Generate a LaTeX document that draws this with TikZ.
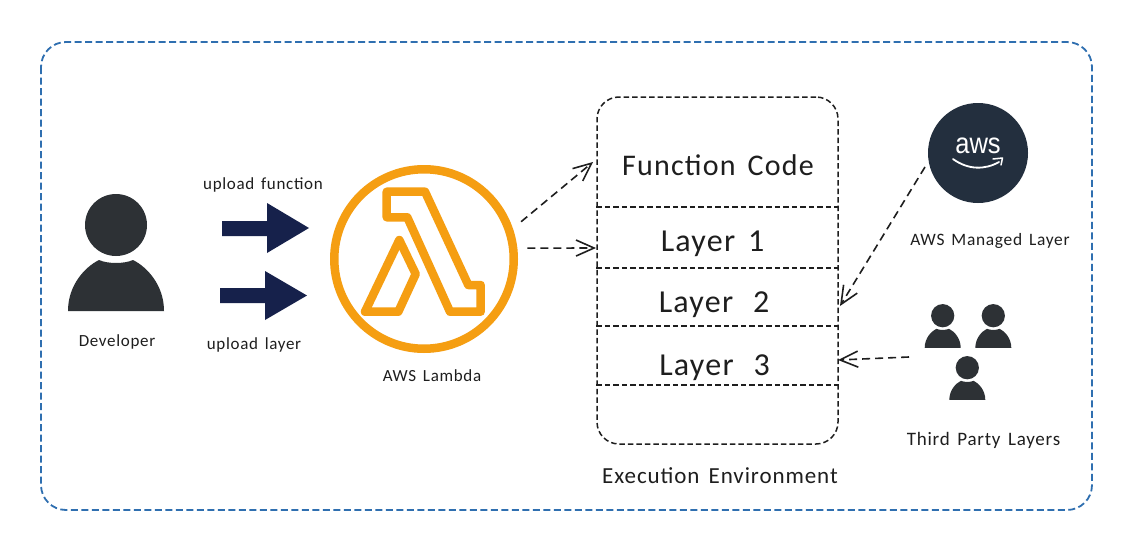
\documentclass[tikz,border=0pt]{standalone}
\usepackage{fontspec}
\setmainfont[LetterSpace=4,WordSpace=1.5]{Carlito}
\newfontfamily\logofont{Liberation Sans}
\usetikzlibrary{arrows.meta,shapes.geometric}
\definecolor{inkc}{HTML}{1E1E1E}
\definecolor{bluec}{HTML}{2F6FB0}
\definecolor{navyc}{HTML}{16214B}
\definecolor{orangec}{HTML}{F59E12}
\definecolor{darkc}{HTML}{2D3135}
\definecolor{awsc}{HTML}{232F3E}
\newcommand{\fsz}[1]{\fontsize{#1}{#1}\selectfont}
\tikzset{
  x=1pt,y=-1pt,
  outerbox/.style={draw=bluec,line width=1.8pt,dash pattern=on 7pt off 3.5pt,rounded corners=25pt},
  execbox/.style={draw=inkc,line width=1.5pt,dash pattern=on 5.5pt off 3pt,rounded corners=22pt,rectangle,inner sep=0pt,minimum width=241pt,minimum height=347pt},
  divider/.style={draw=inkc,line width=1.5pt,dash pattern=on 5.5pt off 3pt},
  link/.style={draw=inkc,line width=1.6pt,dash pattern=on 8pt off 5pt,-{Straight Barb[length=18pt,width=16pt,line width=1.6pt]}},
  bigarrow/.style={fill=navyc,draw=none},
  lambdaline/.style={draw=orangec,line width=8.5pt,line join=round},
  smalllabel/.style={text=inkc,font=\fsz{17},inner sep=0pt},
  biglabel/.style={text=inkc,font=\fsz{32},inner sep=0pt},
  midlabel/.style={text=inkc,font=\fsz{23},inner sep=0pt},
  person/.pic={
    \fill[darkc] (0,0) circle[radius=31];
    \fill[darkc] (-48,86) .. controls (-48,60) and (-31,42) .. (-17,35)
      .. controls (-8,39) and (8,39) .. (17,35)
      .. controls (31,42) and (48,60) .. (48,86) -- cycle;
  }
}
\begin{document}
\begin{tikzpicture}
\useasboundingbox (0,0) rectangle (1129,551);
\fill[white] (0,0) rectangle (1129,551);
\draw[outerbox] (41,42) rectangle (1092,510);

% Developer
\pic at (116,225) {person};
\node[smalllabel] (dev) at (117,342) {Developer};

% Upload arrows
\fill[bigarrow] (222,221) -- (267,221) -- (267,203) -- (309,228) -- (267,253) -- (267,236) -- (222,236) -- cycle;
\fill[bigarrow] (220,288) -- (265,288) -- (265,271) -- (307,295.5) -- (265,320) -- (265,303) -- (220,303) -- cycle;
\node[smalllabel] (upf) at (263,185) {upload function};
\node[smalllabel] (upl) at (254,344.5) {upload layer};

% Lambda
\node[circle,draw=none,minimum size=188pt,inner sep=0pt,outer sep=10pt] (lambda) at (424,259) {};
\draw[draw=orangec,line width=8.5pt] (lambda.center) circle[radius=89.75];
\draw[lambdaline] (386.7,191.7) -- (425,191.7) -- (468.3,285) -- (480.7,285) -- (480.7,311.7) -- (450,311.7) -- (407.3,217.3) -- (386.7,217.3) -- cycle;
\draw[lambdaline] (399.3,240) -- (415.7,274) -- (398.3,311.7) -- (365,311.7) -- cycle;
\node[smalllabel] (lamlab) at (432,376) {AWS Lambda};

% Execution environment
\node[execbox] (exec) at (717.5,270.5) {};
\draw[divider] (exec.west |- 0,207) -- (exec.east |- 0,207);
\draw[divider] (exec.west |- 0,268) -- (exec.east |- 0,268);
\draw[divider] (exec.west |- 0,326) -- (exec.east |- 0,326);
\draw[divider] (exec.west |- 0,385) -- (exec.east |- 0,385);
\node[biglabel,font=\fsz{30}] (fn) at (718,165) {Function Code};
\node[biglabel] (l1) at (712.5,244) {Layer 1};
\node[biglabel] (l2) at (714,305) {Layer\hspace{7pt} 2};
\node[biglabel] (l3) at (714.5,368) {Layer\hspace{7pt} 3};
\node[midlabel] (execlab) at (720,476) {Execution Environment};

% AWS logo
\node[circle,fill=awsc,minimum size=100pt,inner sep=0pt,outer sep=0pt] (aws) at (978,153) {};
\node[text=white,font=\logofont\fsz{29},inner sep=0pt,xscale=0.88] (awstext) at (978,146) {aws};
\draw[white,line width=1.8pt,line cap=round] (953,159) .. controls (968,170) and (985,170) .. (999,162);
\draw[white,line width=1.5pt,line cap=round,line join=round] (993,159) -- (1002.5,158) -- (1001,165);
\node[smalllabel,font=\fsz{17.4}] (awslab) at (990,241) {AWS Managed Layer};

% Third party
\pic[scale=0.375] at (942.7,315.7) {person};
\pic[scale=0.375] at (993.3,315.7) {person};
\pic[scale=0.375] at (967.3,367.7) {person};
\node[smalllabel,font=\fsz{19}] (tplab) at (983.5,440) {Third Party Layers};

% Connector ends
\coordinate (endfn) at (593,162);
\coordinate (endl1) at (596,248);
\coordinate (endl2) at (840,306);
\coordinate (endl3) at (838,360);
\coordinate (startaws) at (925,167);
\coordinate (starttp) at (909,357);
\draw[link] (lambda.21) -- (endfn);
\draw[link] (lambda.6) -- (endl1);
\draw[link] (startaws) -- (endl2);
\draw[link] (starttp) -- (endl3);
\end{tikzpicture}
\end{document}
